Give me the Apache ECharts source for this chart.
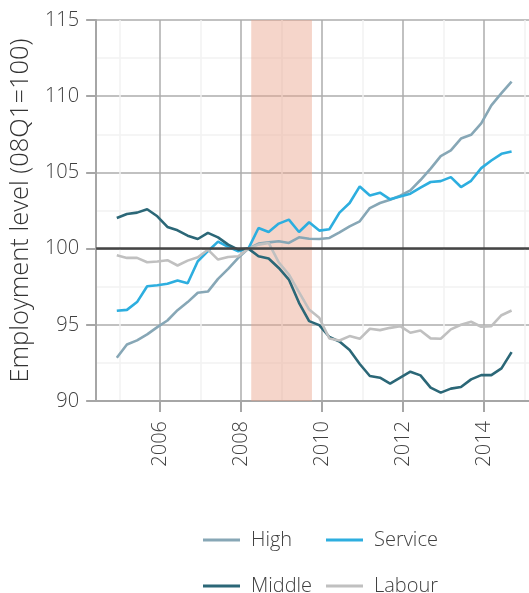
<!DOCTYPE html>
<html>
<head>
<meta charset="utf-8">
<script src="https://cdn.jsdelivr.net/npm/echarts@6/dist/echarts.min.js"></script>
<style>
  html, body { margin: 0; padding: 0; background: #fff; }
  #chart { width: 529px; height: 593px; }
</style>
</head>
<body>
<div id="chart"></div>
<script>
// quarters shown, 2004Q4 .. 2014Q3
var quarters = [
  "2004Q4",
  "2005Q1", "2005Q2", "2005Q3", "2005Q4",
  "2006Q1", "2006Q2", "2006Q3", "2006Q4",
  "2007Q1", "2007Q2", "2007Q3", "2007Q4",
  "2008Q1", "2008Q2", "2008Q3", "2008Q4",
  "2009Q1", "2009Q2", "2009Q3", "2009Q4",
  "2010Q1", "2010Q2", "2010Q3", "2010Q4",
  "2011Q1", "2011Q2", "2011Q3", "2011Q4",
  "2012Q1", "2012Q2", "2012Q3", "2012Q4",
  "2013Q1", "2013Q2", "2013Q3", "2013Q4",
  "2014Q1", "2014Q2", "2014Q3"
];

var high = [92.84, 93.71, 93.98, 94.37, 94.85, 95.28, 95.96, 96.49, 97.1, 97.18,
  98.01, 98.67, 99.39, 100, 100.33, 100.41, 100.48, 100.37, 100.74, 100.65,
  100.63, 100.7, 101.07, 101.46, 101.79, 102.66, 102.99, 103.21, 103.47, 103.82,
  104.5, 105.25, 106.07, 106.44, 107.22, 107.47, 108.21, 109.4, 110.2, 110.96];
var service = [95.92, 95.98, 96.49, 97.53, 97.6, 97.69, 97.9, 97.73, 99.17, 99.83,
  100.46, 100.11, 99.83, 100, 101.35, 101.09, 101.64, 101.9, 101.09, 101.73,
  101.18, 101.27, 102.36, 102.99, 104.08, 103.49, 103.67, 103.23, 103.42, 103.6,
  104.0, 104.37, 104.43, 104.69, 104.04, 104.45, 105.28, 105.78, 106.22, 106.37];
var middle = [102.01, 102.27, 102.36, 102.58, 102.12, 101.42, 101.2, 100.85, 100.63, 101.03,
  100.74, 100.26, 99.93, 100, 99.5, 99.35, 98.73, 97.97, 96.44, 95.24,
  94.98, 94.2, 93.9, 93.35, 92.43, 91.64, 91.53, 91.14, 91.53, 91.92,
  91.68, 90.88, 90.55, 90.81, 90.92, 91.42, 91.7, 91.7, 92.14, 93.21];
var labour = [99.56, 99.39, 99.39, 99.1, 99.15, 99.24, 98.89, 99.21, 99.43, 99.93,
  99.28, 99.45, 99.5, 100, 100.26, 100.37, 99.1, 98.3, 97.15, 96.0,
  95.46, 94.1, 93.97, 94.26, 94.08, 94.74, 94.65, 94.8, 94.91, 94.48,
  94.63, 94.11, 94.08, 94.7, 95.0, 95.2, 94.87, 94.91, 95.63, 95.94];

var yearTicks = [2006, 2008, 2010, 2012, 2014];
var oddYears = [2005, 2007, 2009, 2011, 2013, 2015];
var recession = [2008.25, 2009.75];

var FONT = "'Open Sans', 'Noto Sans', sans-serif";
var TEXT = "#404040";
var GRID = "#acacac";

// quarter label -> position on the year axis
function quarterPos(q) {
  var y = parseInt(q.slice(0, 4), 10);
  var n = parseInt(q.slice(5), 10);
  return y + (n - 1) / 4 + 0.18;
}

function toPoints(values) {
  return quarters.map(function (q, i) {
    return [quarterPos(q), values[i]];
  });
}

function lineSeries(name, values, color) {
  return {
    name: name,
    type: "line",
    data: toPoints(values),
    showSymbol: false,
    symbol: "none",
    lineStyle: { color: color, width: 2.6 },
    itemStyle: { color: color },
    z: 3
  };
}

// one legend per item so the two columns line up
function legendItem(name, left, top) {
  return {
    data: [name],
    left: left,
    top: top,
    padding: 0,
    icon: "rect",
    itemWidth: 37,
    itemHeight: 3,
    textStyle: {
      fontFamily: FONT,
      fontWeight: 300,
      fontSize: 20,
      color: TEXT,
      padding: [0, 0, 0, 6]
    }
  };
}

var option = {
  animation: false,
  textStyle: { fontFamily: FONT },
  grid: { left: 96, top: 20, right: 0, bottom: 192 },
  legend: [
    legendItem("High", 203, 530),
    legendItem("Service", 326, 530),
    legendItem("Middle", 203, 576),
    legendItem("Labour", 326, 576)
  ],
  xAxis: [
    {
      type: "value",
      min: 2004.42,
      max: 2015.11,
      axisLine: { onZero: false, lineStyle: { color: "#a6a6a6", width: 2 } },
      axisTick: { customValues: yearTicks, length: 11, lineStyle: { color: "#a6a6a6", width: 2 } },
      axisLabel: {
        customValues: yearTicks,
        rotate: 90,
        margin: 20,
        fontSize: 20,
        fontWeight: 300,
        color: TEXT,
        formatter: function (v) { return String(v); }
      },
      splitLine: { show: true, lineStyle: { color: GRID, width: 1.5 } }
    },
    {
      // odd years: faint grid only
      type: "value",
      min: 2004.42,
      max: 2015.11,
      position: "bottom",
      axisLine: { show: false },
      axisTick: { show: false, customValues: oddYears },
      axisLabel: { show: false },
      splitLine: { show: true, lineStyle: { color: "#f2f2f2", width: 1.5 } }
    }
  ],
  yAxis: {
    type: "value",
    min: 90,
    max: 115,
    interval: 5,
    name: "Employment level (08Q1=100)",
    nameLocation: "middle",
    nameGap: 55,
    nameTextStyle: { fontSize: 25.5, fontWeight: 300, color: "#333" },
    axisLine: { show: true, lineStyle: { color: "#a6a6a6", width: 2 } },
    axisTick: { show: true, length: 10, lineStyle: { color: "#a6a6a6", width: 2 } },
    axisLabel: { fontSize: 20, fontWeight: 300, color: TEXT, margin: 17 },
    splitLine: { lineStyle: { color: GRID, width: 1.5 } },
    minorTick: { show: false, splitNumber: 2 },
    minorSplitLine: { show: true, lineStyle: { color: "#f2f2f2", width: 1.5 } }
  },
  series: [
    {
      name: "recession",
      type: "line",
      data: [],
      silent: true,
      z: 1,
      markArea: {
        silent: true,
        itemStyle: { color: "rgba(233,162,137,0.45)" },
        data: [[{ xAxis: recession[0] }, { xAxis: recession[1] }]]
      },
      markLine: {
        silent: true,
        symbol: "none",
        label: { show: false },
        lineStyle: { color: "#454545", width: 2.5, type: "solid" },
        data: [{ yAxis: 100 }]
      }
    },
    lineSeries("High", high, "#87a7b6"),
    lineSeries("Service", service, "#2daedf"),
    lineSeries("Middle", middle, "#2b6777"),
    lineSeries("Labour", labour, "#c0c0c0")
  ]
};

var myChart = echarts.init(document.getElementById("chart"));
myChart.setOption(option);
</script>
</body>
</html>
